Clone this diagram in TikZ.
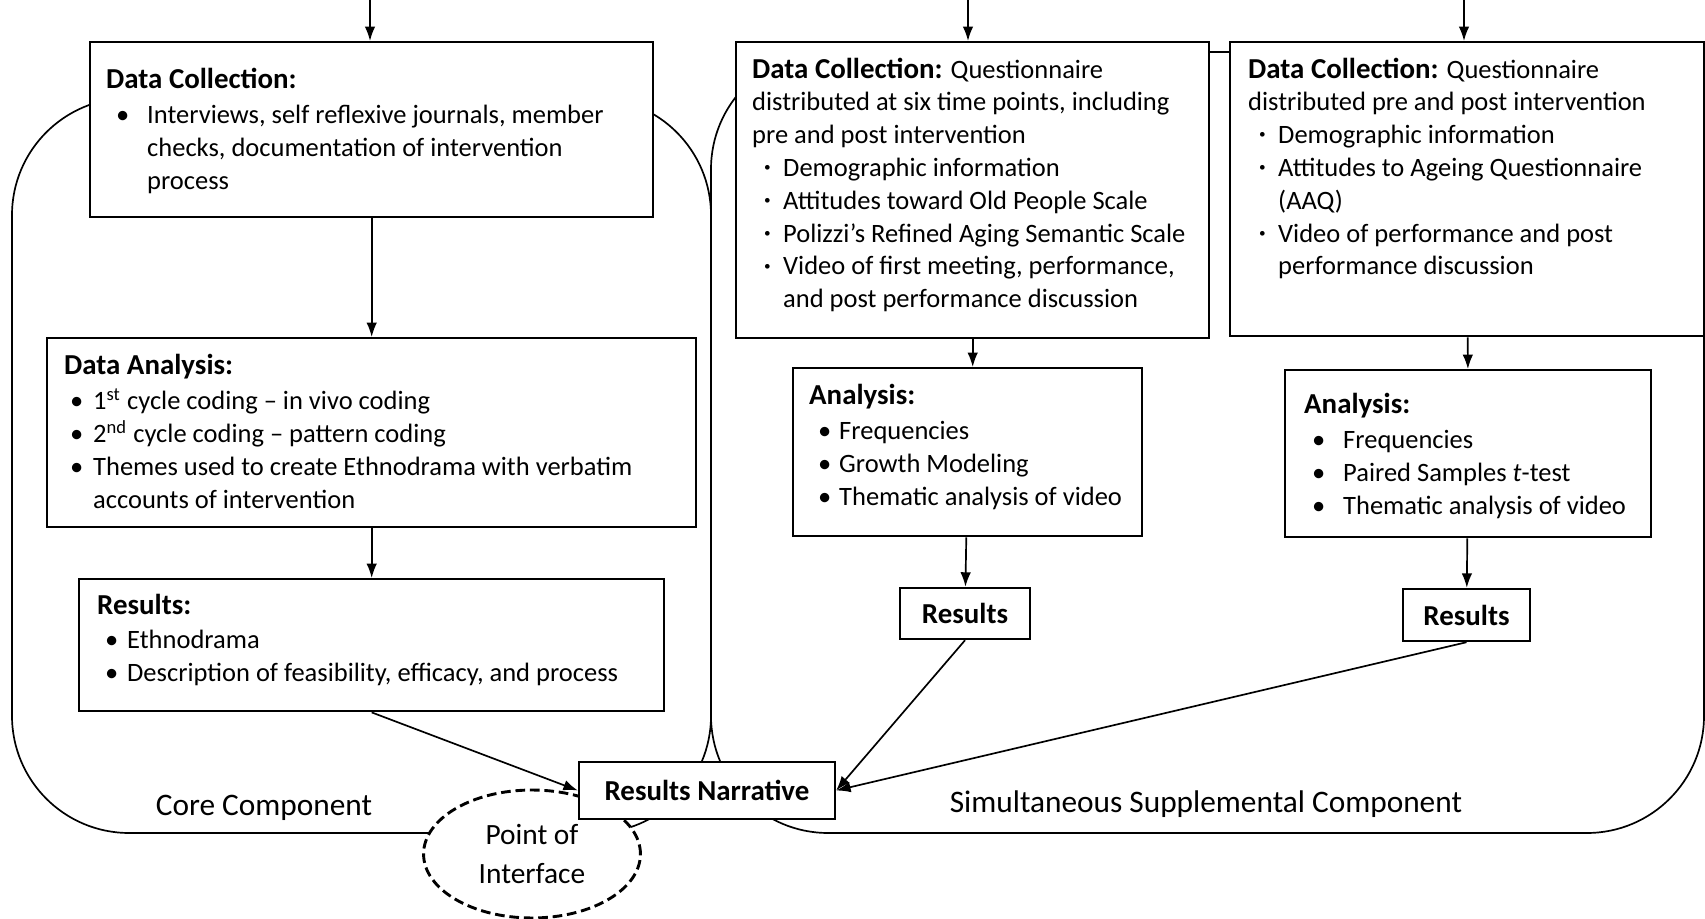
\documentclass[tikz,border=0pt]{standalone}
\usepackage{fontspec}
\setmainfont{Carlito}
\usetikzlibrary{shapes.geometric, arrows.meta, positioning}

\newlength\pxu
\setlength\pxu{0.415pt} % one pixel of the sketch
% width, height, first baseline, left offset, body
\newcommand\boxtext[5]{\parbox[t][#2\pxu][t]{#1\pxu}{\raggedright\leftskip=#4\pxu\rule{0pt}{#3\pxu}#5\par}}
\newcommand\ttl[1]{{\fontsize{12pt}{13.6pt}\selectfont\bfseries #1}}
\newcommand\itm[3]{\par\hangindent=#2\pxu\hangafter=1\noindent\hspace*{#1\pxu}\makebox[\dimexpr#2\pxu-#1\pxu\relax][l]{\textbullet}#3\par}
\newcommand\dotitm[3]{\par\hangindent=#2\pxu\hangafter=1\noindent\hspace*{#1\pxu}\makebox[\dimexpr#2\pxu-#1\pxu\relax][l]{\raisebox{0.18em}{\scalebox{0.5}{\textbullet}}}#3\par}

\tikzset{
        >={Latex[length=6pt, width=4.4pt]}, % arrow heads
        box/.style={draw, line width=1pt, fill=white, inner sep=0pt, anchor=north west}, % text boxes
        resbox/.style={draw, line width=1pt, fill=white, font={\fontsize{12pt}{13.6pt}\selectfont\bfseries}}, % small result boxes
        region/.style={line width=0.7pt, rounded corners=48.6pt}, % the two components
        link/.style={->, line width=0.7pt},
        caption/.style={anchor=base, font={\fontsize{13pt}{15pt}\selectfont}},
        iface/.style={ellipse, draw, line width=1.2pt, dash pattern=on 4pt off 2pt, fill=white, inner sep=0pt,
                      minimum width=90pt, minimum height=53.1pt, align=center,
                      font={\fontsize{12.2pt}{16.2pt}\selectfont}},
    }

\begin{document}
\begin{tikzpicture}[x=0.415pt, y=-0.415pt, font={\fontsize{11pt}{13.6pt}\selectfont}]
    \fill[white] (0,0) rectangle (1705,919);
    \useasboundingbox (0,0) rectangle (1705,919);

    % components
    \draw[region] (12,98) rectangle (711,833);
    \draw[region] (711,52) rectangle (1704,833);
    \node[iface] (poi) at (532,854) {Point of\\Interface};

    % core component
    \node[box] (dc1) at (89,41) {\boxtext{563}{175}{46}{16}{\ttl{Data Collection:}\par\vspace{3\pxu}
        \itm{10}{41}{Interviews, self reflexive journals, member\newline checks, documentation of intervention\newline process}}};
    \node[box] (da1) at (46,337) {\boxtext{649}{189}{36}{17}{\ttl{Data Analysis:}\par\vspace{3\pxu}
        \itm{6}{29}{1\textsuperscript{st} cycle coding – in vivo coding}
        \itm{6}{29}{2\textsuperscript{nd} cycle coding – pattern coding}
        \itm{6}{29}{Themes used to create Ethnodrama with verbatim\newline accounts of intervention}}};
    \node[box] (r1) at (78,578) {\boxtext{585}{132}{35}{18}{\ttl{Results:}\par\vspace{2\pxu}
        \itm{8}{30}{Ethnodrama}
        \itm{8}{30}{Description of feasibility, efficacy, and process}}};

    % supplemental component
    \node[box] (dc2) at (735,41) {\boxtext{473}{296}{36}{16}{\ttl{Data Collection:} Questionnaire\newline distributed at six time points, including\newline pre and post intervention
        \dotitm{12}{31}{Demographic information}
        \dotitm{12}{31}{Attitudes toward Old People Scale}
        \dotitm{12}{31}{Polizzi’s Refined Aging Semantic Scale}
        \dotitm{12}{31}{Video of first meeting, performance,\newline and post performance discussion}}};
    \node[box] (dc3) at (1229,41) {\boxtext{474}{294}{36}{18}{\ttl{Data Collection:} Questionnaire\newline distributed pre and post intervention
        \dotitm{11}{30}{Demographic information}
        \dotitm{11}{30}{Attitudes to Ageing Questionnaire\newline (AAQ)}
        \dotitm{11}{30}{Video of performance and post\newline performance discussion}}};
    \node[box] (a2) at (792,367) {\boxtext{349}{168}{36}{16}{\ttl{Analysis:}\par\vspace{3\pxu}
        \itm{9}{30}{Frequencies}
        \itm{9}{30}{Growth Modeling}
        \itm{9}{30}{Thematic analysis of video}}};
    \node[box] (a3) at (1284,369) {\boxtext{366}{167}{43}{19}{\ttl{Analysis:}\par\vspace{3\pxu}
        \itm{8}{39}{Frequencies}
        \itm{8}{39}{Paired Samples \textit{t}-test}
        \itm{8}{39}{Thematic analysis of video}}};
    \node[resbox, minimum width=53.95pt, minimum height=21.2pt] (res2) at (965,613.5) {Results};
    \node[resbox, minimum width=52.7pt, minimum height=21.6pt] (res3) at (1466.5,615) {Results};
    \node[resbox, minimum width=106.2pt, minimum height=23.7pt] (rn) at (707,790.5) {Results Narrative};

    \node[caption] (core) at (264,815) {Core Component};
    \node[caption] (supp) at (1206,812) {Simultaneous Supplemental Component};

    % connectors
    \coordinate (in1) at (370,0);
    \coordinate (in2) at (968,0);
    \coordinate (in3) at (1464,0);
    \draw[link] (in1) -- (in1 |- dc1.north);
    \draw[link] (in2) -- (in2 |- dc2.north);
    \draw[link] (in3) -- (in3 |- dc3.north);
    \draw[link] (dc1) -- (da1);
    \draw[link] (da1) -- (r1);
    \draw[link] (r1.south) -- (rn.west);
    \draw[link] (dc2.south) -- (dc2.south |- a2.north);
    \draw[link] (a2) -- (res2);
    \draw[link] (dc3) -- (a3);
    \draw[link] (a3) -- (res3);
    \draw[link] (res2.south) -- (rn.east);
    \draw[link] (res3.south) -- (rn.east);
\end{tikzpicture}
\end{document}
